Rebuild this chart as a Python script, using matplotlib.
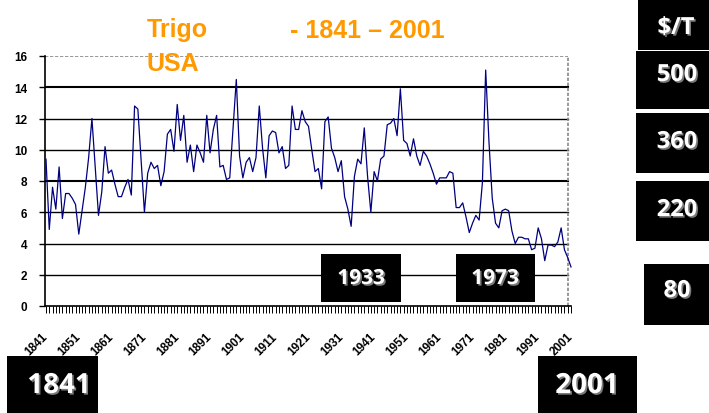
import matplotlib
matplotlib.use('Agg')
import matplotlib.pyplot as plt
import matplotlib.patheffects as pe
from matplotlib.patches import Rectangle

# precio del trigo (USA) 1841 - 2001
years = list(range(1841, 2002))
prices = [
    9.4, 4.9, 7.6, 6.2, 8.9, 5.6, 7.2, 7.2, 6.9, 6.5,        # 1841
    4.6, 6.1, 7.6, 9.5, 12.0, 8.9, 5.8, 7.3, 10.2, 8.5,      # 1851
    8.7, 7.8, 7.0, 7.0, 7.6, 8.1, 7.1, 12.8, 12.6, 9.3,      # 1861
    6.0, 8.5, 9.2, 8.8, 9.0, 7.7, 8.6, 11.0, 11.3, 9.9,      # 1871
    12.9, 10.6, 12.2, 9.2, 10.3, 8.6, 10.3, 9.8, 9.2, 12.2,  # 1881
    9.8, 11.3, 12.2, 8.9, 9.0, 8.1, 8.2, 11.3, 14.5, 9.6,    # 1891
    8.2, 9.2, 9.5, 8.6, 9.5, 12.8, 10.1, 8.2, 10.9, 11.2,    # 1901
    11.1, 9.8, 10.2, 8.8, 9.0, 12.8, 11.3, 11.3, 12.5, 11.8, # 1911
    11.5, 10.0, 8.6, 8.8, 7.5, 11.8, 12.1, 10.1, 9.5, 8.6,   # 1921
    9.3, 7.0, 6.2, 5.1, 8.3, 9.4, 9.1, 11.4, 8.3, 6.0,       # 1931
    8.6, 8.0, 9.4, 9.6, 11.6, 11.7, 12.0, 10.9, 13.9, 10.6,  # 1941
    10.4, 9.6, 10.7, 9.6, 9.0, 9.9, 9.6, 9.1, 8.5, 7.8,      # 1951
    8.2, 8.2, 8.2, 8.6, 8.5, 6.3, 6.3, 6.6, 5.7, 4.7,        # 1961
    5.3, 5.8, 5.5, 7.9, 15.1, 10.5, 6.9, 5.3, 5.0, 6.1,      # 1971
    6.2, 6.1, 4.8, 4.0, 4.4, 4.4, 4.3, 4.3, 3.6, 3.7,        # 1981
    5.0, 4.3, 2.9, 3.9, 3.9, 3.8, 4.1, 5.0, 3.6, 3.1,        # 1991
    2.5,                                                     # 2001
]
assert len(prices) == len(years)

tick_years = list(range(1841, 2002, 10))
y_ticks = list(range(0, 17, 2))
grid_levels = [2, 4, 6, 8, 10, 12, 14]

# recuadros negros: texto, caja (x0, y0, x1, y1) en pixeles, posicion del texto, tamano
boxes = [
    ('$/T', (638, 0, 709, 51), (676, 35), 17),
    ('500', (636, 52, 709, 110), (677, 82), 17),
    ('360', (636, 114, 709, 174), (677, 149), 17),
    ('220', (636, 182, 709, 242), (677, 217), 17),
    ('80', (644, 265, 709, 326), (677, 298), 17),
    ('1933', (321, 255, 401, 303), (361, 285), 15),
    ('1973', (456, 255, 535, 303), (495, 285), 15),
    ('1841', (7, 357, 98, 414), (59, 394), 20),
    ('2001', (538, 357, 637, 414), (587, 394), 20),
]

W, H = 709, 414
plt.rcParams['font.family'] = ['Liberation Sans', 'DejaVu Sans']

fig = plt.figure(figsize=(W / 100, H / 100), dpi=100)
ax = fig.add_axes([45 / W, 1 - 307 / H, 526 / W, 250 / H])

x_left, x_right = 1840.7, 2000.1
ax.set_xlim(x_left, 2001)
ax.set_ylim(0, 16)

for lv in grid_levels:
    ax.plot([x_left, x_right], [lv, lv], color='black',
            lw=1.5 if lv in (8, 14) else 1.0, zorder=1)
ax.plot([x_left, x_right], [16, 16], color='#888888', lw=1.2, ls=(0, (2, 1)), zorder=1)
ax.plot([x_right, x_right], [0, 16], color='#888888', lw=1.2, ls=(0, (2, 1)), zorder=1)

ax.plot(years, prices, color='#000080', lw=0.9, clip_on=False, zorder=3)

for s in ['top', 'right']:
    ax.spines[s].set_visible(False)
ax.spines['left'].set_linewidth(1.2)
ax.spines['bottom'].set_linewidth(1.2)

ax.set_yticks(y_ticks)
ax.set_yticklabels([str(v) for v in y_ticks], fontsize=8.5, fontweight='bold')
ax.tick_params(axis='y', length=4.3, width=1.0, pad=8.6)

ax.set_xticks(tick_years)
ax.set_xticks(years, minor=True)
ax.set_xticklabels([str(v) for v in tick_years], rotation=45, ha='right', va='center',
                   rotation_mode='anchor', fontsize=8.5, fontweight='bold')
ax.tick_params(axis='x', which='both', length=5, width=0.7, direction='out')
ax.tick_params(axis='x', which='major', pad=15.5)


def fx(x):
    return x / W


def fy(y):
    return 1 - y / H


orange = '#FF9900'
fig.text(fx(147), fy(37.5), 'Trigo', color=orange, fontsize=18, fontweight='bold', va='baseline')
fig.text(fx(147), fy(71), 'USA', color=orange, fontsize=18, fontweight='bold', va='baseline')
fig.text(fx(290), fy(37.5), '- 1841 \u2013 2001', color=orange, fontsize=18,
         fontweight='bold', va='baseline')

shadow = [pe.withSimplePatchShadow(offset=(1.2, -1.2), shadow_rgbFace='#7a7a7a', alpha=1.0)]
for label, (x0, y0, x1, y1), (tx, ty), size in boxes:
    fig.add_artist(Rectangle((fx(x0), fy(y1)), (x1 - x0) / W, (y1 - y0) / H,
                             transform=fig.transFigure, facecolor='black', edgecolor='none'))
    fig.text(fx(tx), fy(ty), label, color='white', fontsize=size, fontweight='bold',
             family=['Open Sans', 'DejaVu Sans'], ha='center', va='baseline',
             path_effects=shadow)

fig.savefig('out.png', dpi=100)
